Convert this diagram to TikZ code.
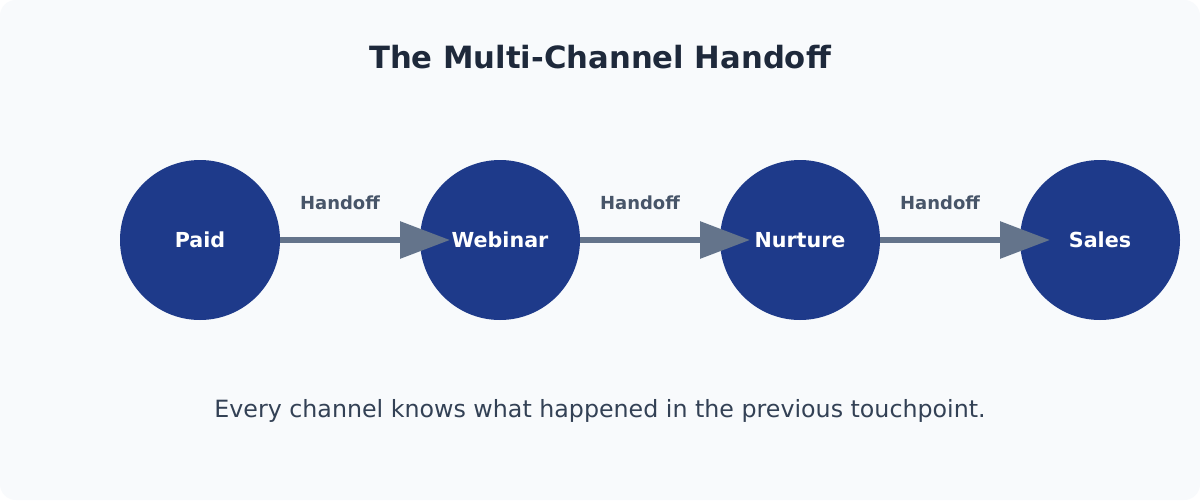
\documentclass[tikz,border=0pt]{standalone}
\usepackage{fontspec}
\setmainfont{DejaVu Sans}
\usepackage{xcolor}
\usepackage{tikz}
\usetikzlibrary{arrows.meta}

\definecolor{bgpanel}{HTML}{F8FAFC}
\definecolor{stageblue}{HTML}{1E3A8A}
\definecolor{linkgray}{HTML}{64748B}
\definecolor{titleink}{HTML}{1E293B}
\definecolor{labelink}{HTML}{475569}
\definecolor{noteink}{HTML}{334155}

\begin{document}
\begin{tikzpicture}[x=0.75pt, y=-0.75pt,
    stage/.style={circle, fill=stageblue, minimum size=120pt, inner sep=0pt},
    stagetext/.style={text=white, font=\fontsize{15.5}{18}\selectfont\bfseries},
    handoff/.style={-{Triangle[length=37.5pt, width=27pt]}, line width=4.5pt, draw=linkgray, shorten >=37.5pt},
    handofftext/.style={text=labelink, font=\fontsize{13.5}{16}\selectfont\bfseries}]

\fill[white] (0,0) rectangle (1200,500);
\fill[bgpanel, rounded corners=12pt] (0,0) rectangle (1200,500);

\node[text=titleink, font=\fontsize{23}{27}\selectfont\bfseries] (title) at (600,57) {The Multi-Channel Handoff};

\node[stage] (paid) at (200,240) {};
\node[stage] (webinar) at (500,240) {};
\node[stage] (nurture) at (800,240) {};
\node[stage] (sales) at (1100,240) {};

\draw[handoff] (paid.east) -- (webinar.center);
\draw[handoff] (webinar.east) -- (nurture.center);
\draw[handoff] (nurture.east) -- (sales.center);

\node[handofftext] (hand1) at (340,203) {Handoff};
\node[handofftext] (hand2) at (640,203) {Handoff};
\node[handofftext] (hand3) at (940,203) {Handoff};

\node[stagetext] (paidtext) at (paid) {Paid};
\node[stagetext] (webinartext) at (webinar) {Webinar};
\node[stagetext] (nurturetext) at (nurture) {Nurture};
\node[stagetext] (salestext) at (sales) {Sales};

\node[text=noteink, font=\fontsize{17.8}{21}\selectfont] (note) at (600,411) {Every channel knows what happened in the previous touchpoint.};

\end{tikzpicture}
\end{document}
